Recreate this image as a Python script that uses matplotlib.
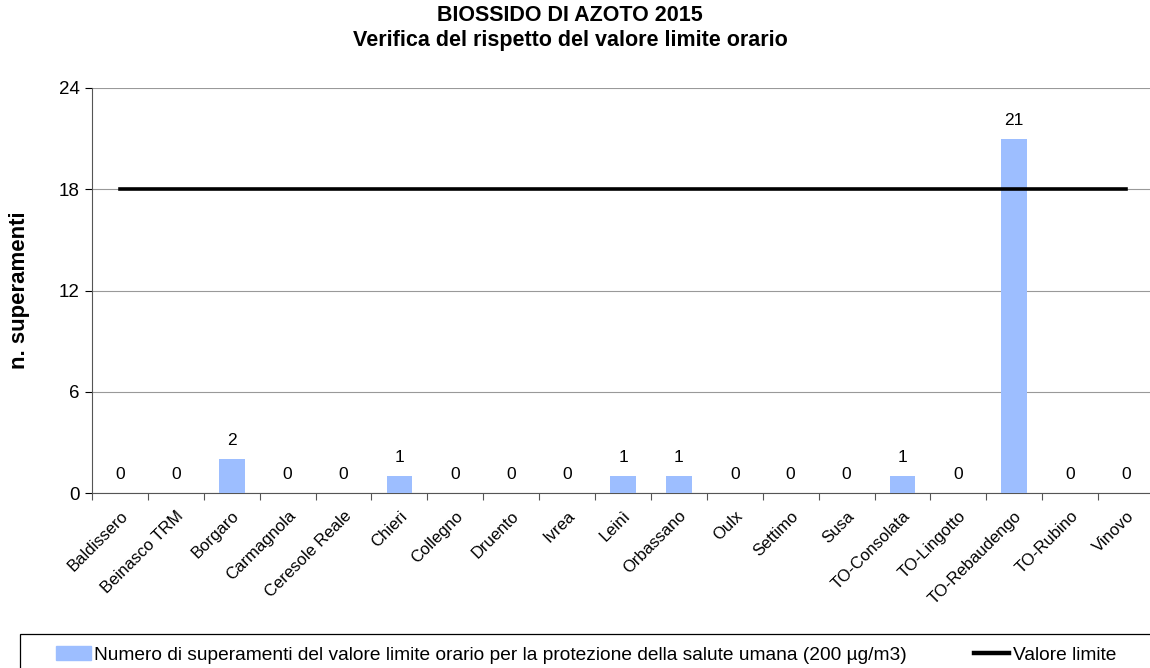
import numpy as np
import matplotlib.pyplot as plt
from matplotlib.lines import Line2D
from matplotlib.patches import Patch, Rectangle

plt.rcParams['font.family'] = ['Liberation Sans', 'DejaVu Sans']

# dati
stazioni = ['Baldissero', 'Beinasco TRM', 'Borgaro', 'Carmagnola', 'Ceresole Reale',
            'Chieri', 'Collegno', 'Druento', 'Ivrea', 'Leinì', 'Orbassano', 'Oulx',
            'Settimo', 'Susa', 'TO-Consolata', 'TO-Lingotto', 'TO-Rebaudengo',
            'TO-Rubino', 'Vinovo']
superamenti = [0, 0, 2, 0, 0, 1, 0, 0, 0, 1, 1, 0, 0, 0, 1, 0, 21, 0, 0]
valore_limite = [18] * len(stazioni)

W, H = 1150, 668
fig = plt.figure(figsize=(W / 100, H / 100), dpi=100)
# l'area del grafico esce leggermente a destra, come nell'originale
ax = fig.add_axes([92 / W, 1 - 493 / H, 1062 / W, (493 - 88) / H])

x = np.arange(len(stazioni))
ax.bar(x, superamenti, width=0.46, color='#9DBEFF', zorder=3)
ax.plot(x, valore_limite, color='black', lw=2.6, zorder=4)

for xi, v in zip(x, superamenti):
    ax.annotate(str(v), (xi, v), xytext=(0, 8), textcoords='offset points',
                ha='center', va='bottom', fontsize=12.5)

ax.set_xlim(-0.5, len(stazioni) - 0.5)
ax.set_ylim(0, 24)
ax.set_yticks([0, 6, 12, 18, 24])
ax.yaxis.grid(True, color='#999999', lw=0.8, zorder=0)
ax.tick_params(axis='y', labelsize=13.5, length=5, width=0.8, pad=4)

ax.set_xticks(x)
ax.set_xticklabels(stazioni, rotation=45, ha='right', rotation_mode='anchor', fontsize=12)
ax.tick_params(axis='x', length=0, pad=11)
ax.set_xticks(np.arange(len(stazioni) + 1) - 0.5, minor=True)
ax.tick_params(axis='x', which='minor', length=5, width=0.8, color='#555555')

for s in ['top', 'right']:
    ax.spines[s].set_visible(False)
ax.spines['left'].set_color('#555555')
ax.spines['bottom'].set_color('#555555')

ax.set_ylabel('n. superamenti', fontsize=16, fontweight='bold', va='center')
ax.yaxis.set_label_coords((20 - 92) / 1062, 0.5)

fig.text(570 / W, 1 - 28 / H,
         'BIOSSIDO DI AZOTO 2015\nVerifica del rispetto del valore limite orario',
         ha='center', va='center', fontsize=15.5, fontweight='bold', linespacing=1.2)

# riquadro della legenda (esce dal bordo destro e inferiore)
fig.patches.append(Rectangle((20 / W, -0.05), 1.1, 1 - 634 / H + 0.05,
                             transform=fig.transFigure, fill=False,
                             edgecolor='black', lw=0.9))
handles = [Patch(color='#9DBEFF'), Line2D([], [], color='black', lw=3.2)]
labels = ['Numero di superamenti del valore limite orario per la protezione della salute umana (200 µg/m3)',
          'Valore limite']
fig.legend(handles, labels, loc='center left', bbox_to_anchor=(56 / W, 1 - 655 / H),
           ncol=2, fontsize=13.8, frameon=False,
           handlelength=1.8, handletextpad=0.2, columnspacing=3.5,
           borderpad=0, borderaxespad=0)

fig.savefig('out.png', dpi=100)
